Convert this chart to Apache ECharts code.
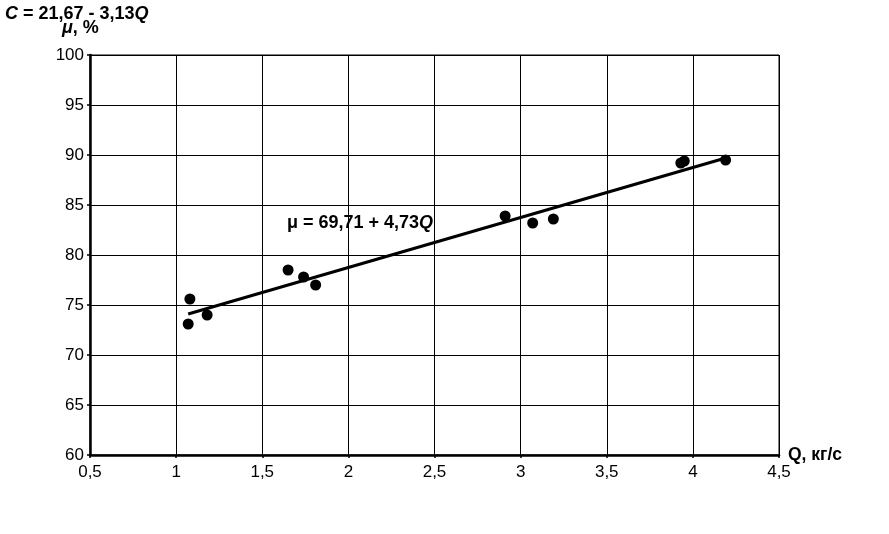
<!DOCTYPE html>
<html>
<head>
<meta charset="utf-8">
<script src="https://cdn.jsdelivr.net/npm/echarts@6/dist/echarts.min.js"></script>
<style>
html,body{margin:0;padding:0;background:#fff;}
#chart{width:889px;height:534px;}
</style>
</head>
<body>
<div id="chart"></div>
<script>
// Data
var qValues  = [1.07, 1.08, 1.18, 1.65, 1.74, 1.81, 2.91, 3.07, 3.19, 3.93, 3.95, 4.19];
var muValues = [73.1, 75.6, 74.0, 78.5, 77.8, 77.0, 83.9, 83.2, 83.6, 89.2, 89.4, 89.5];
var fitQ  = [1.07, 4.19];
var fitMu = [74.1, 89.7];
var xTicks = {min: 0.5, max: 4.5, interval: 0.5};
var yTicks = {min: 60, max: 100, interval: 5};

var FONT = 'Arial, "Liberation Sans", sans-serif';
var chart = echarts.init(document.getElementById('chart'), null, {renderer: 'canvas'});

var points = qValues.map(function (q, i) { return [q, muValues[i]]; });
var fit = fitQ.map(function (q, i) { return [q, fitMu[i]]; });
function comma(v) { return String(v).replace('.', ','); }

var richStyles = {
  b: {fontFamily: FONT, fontWeight: 'bold', fontSize: 18, fill: '#000'},
  i: {fontFamily: FONT, fontWeight: 'bold', fontStyle: 'italic', fontSize: 18, fill: '#000'}
};

chart.setOption({
  animation: false,
  backgroundColor: '#fff',
  grid: {left: 90, top: 55, width: 689, height: 400, show: true, borderColor: '#000', borderWidth: 1},
  xAxis: {
    type: 'value', min: xTicks.min, max: xTicks.max, interval: xTicks.interval,
    name: 'Q, кг/с', nameLocation: 'end', nameGap: 9,
    nameTextStyle: {fontFamily: FONT, fontWeight: 'bold', fontSize: 17.5, color: '#000', verticalAlign: 'middle'},
    axisLine: {show: true, onZero: false, lineStyle: {color: '#000', width: 2.5}},
    axisTick: {show: true, length: 3, lineStyle: {color: '#000', width: 1.5}},
    axisLabel: {fontFamily: FONT, fontSize: 17, color: '#000', margin: 9, formatter: comma},
    splitLine: {show: true, lineStyle: {color: '#000', width: 1}}
  },
  yAxis: {
    type: 'value', min: yTicks.min, max: yTicks.max, interval: yTicks.interval,
    axisLine: {show: true, onZero: false, lineStyle: {color: '#000', width: 2.5}},
    axisTick: {show: true, length: 3, lineStyle: {color: '#000', width: 1.5}},
    axisLabel: {fontFamily: FONT, fontSize: 17, color: '#000', margin: 6, formatter: comma},
    splitLine: {show: true, lineStyle: {color: '#000', width: 1}}
  },
  series: [
    {
      type: 'line', data: fit, symbol: 'none', silent: true,
      lineStyle: {color: '#000', width: 3}, z: 2
    },
    {
      type: 'scatter', data: points, symbol: 'circle', symbolSize: 11,
      itemStyle: {color: '#000', opacity: 1}, z: 3
    }
  ],
  graphic: [
    {
      type: 'text', left: 5, top: 5, z: 10,
      style: {text: '{i|C}{b| = 21,67 - 3,13}{i|Q}', rich: richStyles}
    },
    {
      type: 'text', left: 62, top: 19, z: 10,
      style: {text: '{i|μ}{b|, %}', rich: richStyles}
    },
    {
      type: 'text', left: 287, top: 214, z: 10,
      style: {text: '{b|μ = 69,71 + 4,73}{i|Q}', rich: richStyles}
    }
  ]
});
</script>
</body>
</html>
